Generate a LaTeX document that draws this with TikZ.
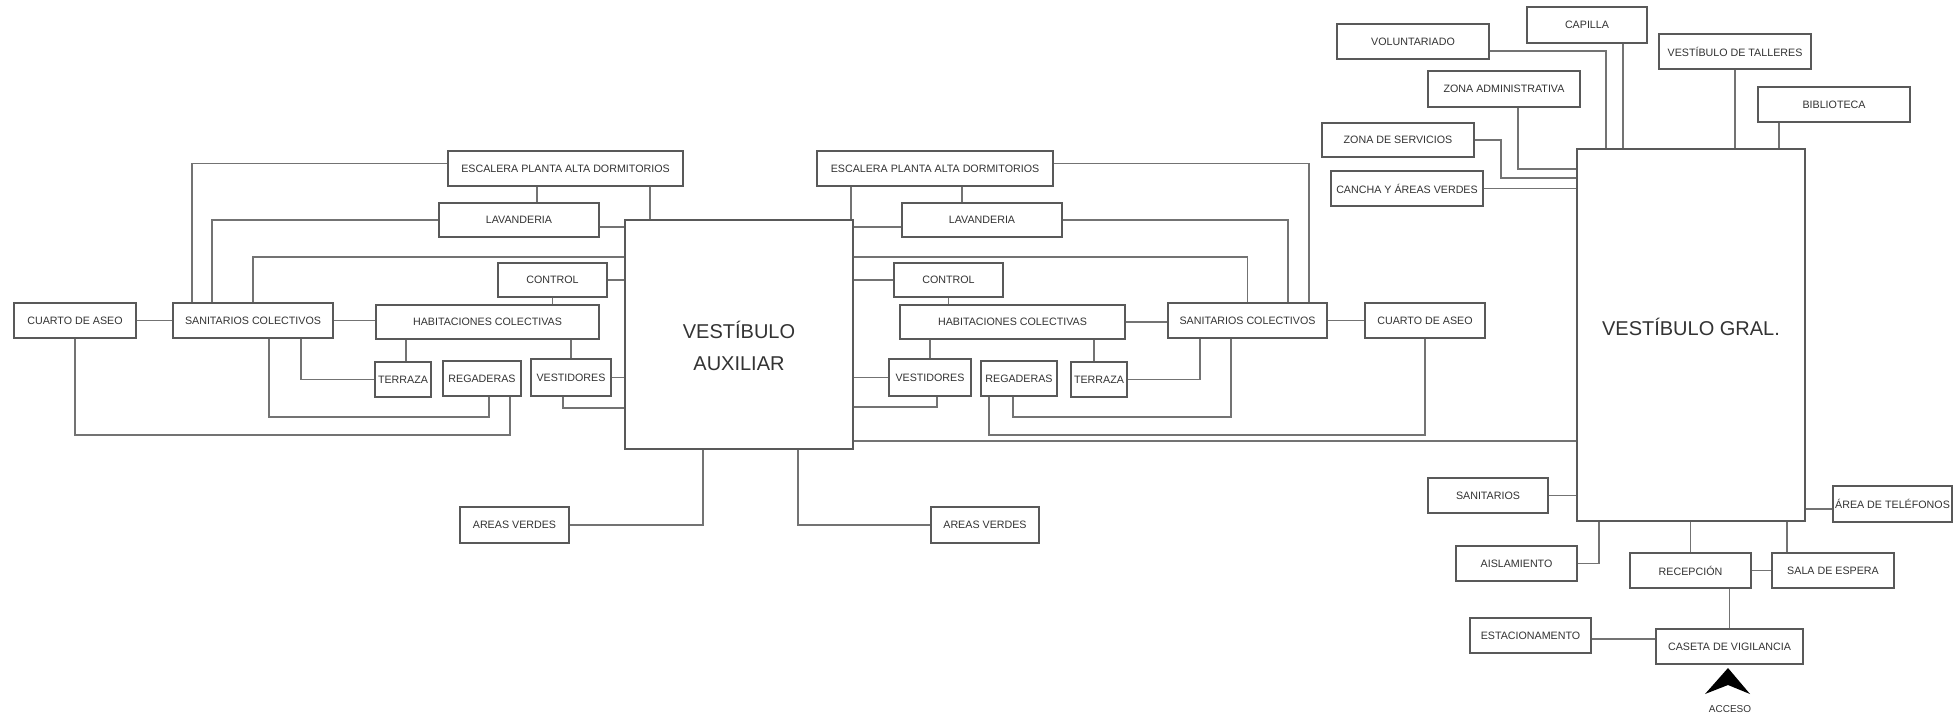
\documentclass[tikz,border=0pt]{standalone}
\usepackage{fontspec}
\setmainfont{Liberation Sans}
\begin{document}
\begin{tikzpicture}[x=1pt, y=-1pt, line width=1.3pt,
    box/.style={draw=black!65, fill=white, inner sep=1pt, text=black!80,
        font=\fontsize{10.7}{12}\selectfont},
    hall/.style={box, align=center, font=\fontsize{20}{32}\selectfont},
    conn/.style={draw=black!55}]
\useasboundingbox (0,0) rectangle (1960,721);

% the two halls
\node[hall, minimum width=228, minimum height=229] (aux) at (739,334.5) {\rule{0pt}{40pt}VESTÍBULO\\AUXILIAR};
\node[hall, minimum width=228, minimum height=372] (gral) at (1691,335) {VESTÍBULO GRAL.\rule[-16pt]{0pt}{0pt}};

\foreach \n/\cx/\cy/\w/\h/\t in {
    cuartoL/75/320.5/122/35/CUARTO DE ASEO,
    sanL/253/320.5/160/35/SANITARIOS COLECTIVOS,
    habL/487.5/322/223/34/HABITACIONES COLECTIVAS,
    controlL/552.5/280/109/34/CONTROL,
    lavL/519/220/160/34/LAVANDERIA,
    escL/565.5/168.5/235/35/ESCALERA PLANTA ALTA DORMITORIOS,
    terrL/403/379.5/56/35/TERRAZA,
    regL/482/378.5/78/35/REGADERAS,
    vestL/571/377.5/80/37/VESTIDORES,
    areasL/514.5/525/109/36/AREAS VERDES,
    areasR/985/525/108/36/AREAS VERDES,
    escR/935/168.5/236/35/ESCALERA PLANTA ALTA DORMITORIOS,
    lavR/982/220/160/34/LAVANDERIA,
    controlR/948.5/280/109/34/CONTROL,
    habR/1012.5/322/225/34/HABITACIONES COLECTIVAS,
    sanR/1247.5/320.5/159/35/SANITARIOS COLECTIVOS,
    cuartoR/1425/320.5/120/35/CUARTO DE ASEO,
    vestR/930/377.5/82/37/VESTIDORES,
    regR/1019/378.5/76/35/REGADERAS,
    terrR/1099/379.5/56/35/TERRAZA,
    capilla/1587/25/120/36/CAPILLA,
    volunt/1413/41.5/152/35/VOLUNTARIADO,
    talleres/1735/51.5/152/35/VESTÍBULO DE TALLERES,
    admin/1504/89/152/36/ZONA ADMINISTRATIVA,
    biblio/1834/104.5/152/35/BIBLIOTECA,
    servicios/1398/140/152/34/ZONA DE SERVICIOS,
    cancha/1407/188.5/152/35/CANCHA Y ÁREAS VERDES,
    sanit/1488/495.5/120/35/SANITARIOS,
    aisla/1516.5/563.5/121/35/AISLAMIENTO,
    recep/1690.5/570.5/121/35/RECEPCIÓN,
    sala/1833/570.5/122/35/SALA DE ESPERA,
    telef/1892.5/504/119/36/ÁREA DE TELÉFONOS,
    caseta/1729.5/646.5/147/35/CASETA DE VIGILANCIA,
    estac/1530.5/635.5/121/35/ESTACIONAMENTO
} {
    \node[box, minimum width=\w, minimum height=\h] (\n) at (\cx,\cy) {\t};
}

% left wing
\draw[conn] ([yshift=5pt]escL.west) -| (sanL.north -| 192,0);
\draw[conn] (lavL.west) -| (sanL.north -| 212,0);
\draw[conn] (aux.west |- 0,257) -| (sanL.north);
\draw[conn] (escL.south -| 537,0) -- (lavL.north -| 537,0);
\draw[conn] (escL.south -| 650,0) -- (aux.north -| 650,0);
\draw[conn] (lavL.east |- 0,227) -- (aux.west |- 0,227);
\draw[conn] (controlL.east) -- (aux.west |- controlL.east);
\draw[conn] (controlL.south) -- (habL.north -| controlL.south);
\draw[conn] (cuartoL.east) -- (sanL.west);
\draw[conn] (sanL.east) -- (habL.west |- sanL.east);
\draw[conn] (cuartoL.south) |- (510,435) -- (regL.south -| 510,0);
\draw[conn] (sanL.south -| 269,0) |- (489,417) -- (regL.south -| 489,0);
\draw[conn] (sanL.south -| 301,0) |- (terrL.west);
\draw[conn] (habL.south -| 406,0) -- (terrL.north -| 406,0);
\draw[conn] (habL.south -| vestL.north) -- (vestL.north);
\draw[conn] (vestL.east) -- (aux.west |- vestL.east);
\draw[conn] (vestL.south -| 563,0) |- (aux.west |- 0,408);
\draw[conn] (aux.south -| 703,0) |- (areasL.east);
\draw[conn] (aux.south -| 798,0) |- (areasR.west);

% right wing
\draw[conn] (escR.south -| 851,0) -- (aux.north -| 851,0);
\draw[conn] (escR.south -| 962,0) -- (lavR.north -| 962,0);
\draw[conn] ([yshift=5pt]escR.east) -| (sanR.north -| 1309,0);
\draw[conn] (lavR.west |- 0,227) -- (aux.east |- 0,227);
\draw[conn] (lavR.east) -| (sanR.north -| 1288,0);
\draw[conn] (aux.east |- 0,257) -| (sanR.north);
\draw[conn] (controlR.west) -- (aux.east |- controlR.west);
\draw[conn] (controlR.south) -- (habR.north -| controlR.south);
\draw[conn] (habR.east) -- (sanR.west |- habR.east);
\draw[conn] (sanR.east) -- (cuartoR.west);
\draw[conn] (habR.south -| vestR.north) -- (vestR.north);
\draw[conn] (habR.south -| 1094,0) -- (terrR.north -| 1094,0);
\draw[conn] (vestR.west) -- (aux.east |- vestR.west);
\draw[conn] (vestR.south -| 937,0) |- (aux.east |- 0,407);
\draw[conn] (terrR.east) -| (sanR.south -| 1200,0);
\draw[conn] (regR.south -| 1013,0) |- (1231,417) -- (sanR.south -| 1231,0);
\draw[conn] (regR.south -| 989,0) |- (cuartoR.south |- 0,435) -- (cuartoR.south);
\draw[conn] (aux.east |- 0,441) -- (gral.west |- 0,441);

% general hall
\draw[conn] (volunt.east |- 0,51) -| (gral.north -| 1606,0);
\draw[conn] (capilla.south -| 1623,0) -- (gral.north -| 1623,0);
\draw[conn] (talleres.south) -- (gral.north -| talleres.south);
\draw[conn] (biblio.south -| 1779,0) -- (gral.north -| 1779,0);
\draw[conn] (admin.south -| 1518,0) |- (gral.west |- 0,169);
\draw[conn] (servicios.east) -| (1501,178) -- (gral.west |- 0,178);
\draw[conn] (cancha.east) -- (gral.west |- cancha.east);
\draw[conn] (sanit.east) -- (gral.west |- sanit.east);
\draw[conn] (aisla.east) -| (gral.south -| 1599,0);
\draw[conn] (recep.north) -- (gral.south -| recep.north);
\draw[conn] (sala.north -| 1787,0) -- (gral.south -| 1787,0);
\draw[conn] (recep.east) -- (sala.west);
\draw[conn] (telef.west |- 0,509) -- (gral.east |- 0,509);
\draw[conn] (caseta.north) -- (recep.south -| caseta.north);
\draw[conn] (estac.east |- 0,639) -- (caseta.west |- 0,639);

% access
\fill[black] (1728,668) -- (1750,694) -- (1728,685) -- (1705,694) -- cycle;
\node[text=black!80, font=\fontsize{10}{12}\selectfont] (acceso) at (1730,709) {ACCESO};

\end{tikzpicture}
\end{document}
